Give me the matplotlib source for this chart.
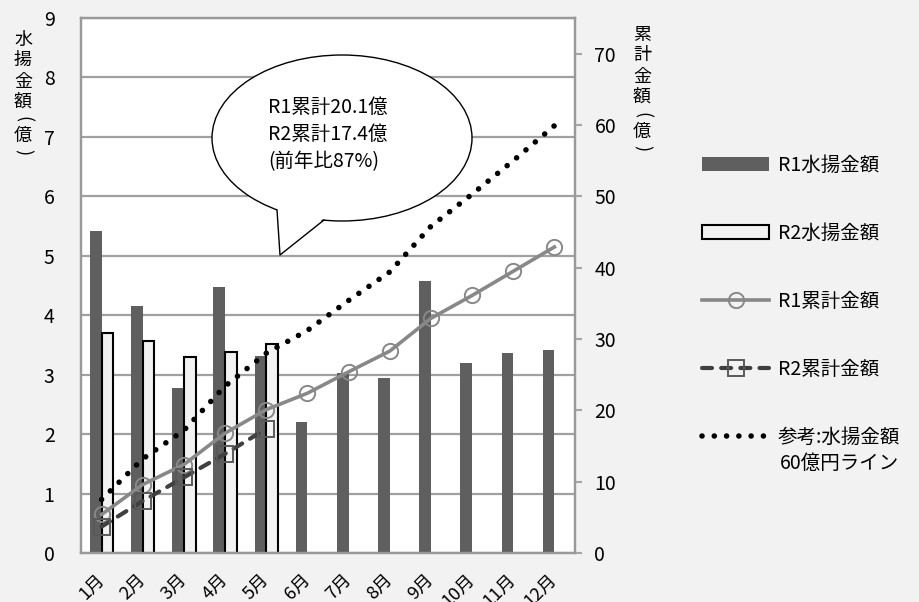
import matplotlib
matplotlib.use('Agg')
import matplotlib.pyplot as plt
from matplotlib.patches import Ellipse, Polygon
import numpy as np

plt.rcParams['font.family'] = ['Noto Sans CJK JP', 'DejaVu Sans']

# data
months = ['1月', '2月', '3月', '4月', '5月', '6月', '7月', '8月', '9月', '10月', '11月', '12月']
r1_monthly = [5.42, 4.16, 2.78, 4.47, 3.32, 2.21, 3.02, 2.95, 4.57, 3.20, 3.37, 3.42]
r2_monthly = [3.70, 3.56, 3.30, 3.38, 3.51]
r1_cumulative = [5.4, 9.6, 12.4, 16.8, 20.1, 22.4, 25.4, 28.3, 32.9, 36.1, 39.5, 42.9]
r2_cumulative = [3.7, 7.3, 10.6, 13.9, 17.4]
target_line = [7.5, 13.2, 17.2, 23.4, 28.0, 31.2, 35.4, 39.4, 45.8, 50.3, 55.0, 59.9]
left_ticks = list(range(0, 10))
right_ticks = list(range(0, 80, 10))

callout_lines = ['R1累計20.1億', 'R2累計17.4億', '(前年比87%)']

W, H = 919, 602
fig = plt.figure(figsize=(W / 100, H / 100), dpi=100, facecolor='#F2F2F2')

ax = fig.add_axes([81 / W, 1 - 553 / H, 494 / W, 535 / H])
ax.set_facecolor('white')
x = np.arange(len(months))
bw = 0.284
b1 = ax.bar(x - bw / 2, r1_monthly, width=bw, color='#5F5F5F', label='R1水揚金額', zorder=2)
b2 = ax.bar(x[:len(r2_monthly)] + bw / 2, r2_monthly, width=bw, facecolor='#F2F2F2',
            edgecolor='black', linewidth=1.5, label='R2水揚金額', zorder=2)
ax.set_xlim(-0.5, 11.5)
ax.set_ylim(0, 9)
ax.set_yticks(left_ticks)
ax.yaxis.grid(True, color='#A0A0A0', linewidth=1.6)
ax.set_axisbelow(True)
ax.tick_params(axis='y', length=0, pad=19, labelsize=14)
ax.set_xticks(x)
ax.set_xticklabels(months, rotation=45, ha='right', va='center', rotation_mode='anchor', fontsize=13)
ax.tick_params(axis='x', length=0, pad=17)
for s in ax.spines.values():
    s.set_color('#999999')
    s.set_linewidth(1.6)

ax2 = ax.twinx()
ax2.set_ylim(0, 75)
ax2.set_yticks(right_ticks)
ax2.tick_params(axis='y', length=5, width=1.5, color='#A6A6A6', pad=9, labelsize=14)
for s in ax2.spines.values():
    s.set_color('#999999')
    s.set_linewidth(1.6)

l1, = ax2.plot(x, r1_cumulative, color='#888888', lw=2.6, marker='o', markersize=11,
               markerfacecolor='none', markeredgecolor='#888888', markeredgewidth=1.4,
               label='R1累計金額', zorder=3)
l2, = ax2.plot(x[:len(r2_cumulative)], r2_cumulative, color='#404040', lw=3,
               linestyle=(0, (2.4, 2.2)), dash_capstyle='round', marker='s', markersize=11,
               markerfacecolor='none', markeredgecolor='#595959', markeredgewidth=1.4,
               label='R2累計金額', zorder=3)
l3, = ax2.plot(x, target_line, color='black', lw=4, linestyle=(0, (0.01, 2.2)),
               dash_capstyle='round', label='参考:水揚金額', zorder=4)

fig.legend(handles=[b1, b2, l1, l2, l3], loc='upper left',
           bbox_to_anchor=(702 / W, 1 - 155 / H), frameon=False, fontsize=14,
           handlelength=3.45, handletextpad=0.45, labelspacing=2.42,
           borderpad=0, borderaxespad=0, numpoints=1)

# overlay in pixel coordinates for annotations
ov = fig.add_axes([0, 0, 1, 1], zorder=10)
ov.set_xlim(0, W)
ov.set_ylim(H, 0)
ov.axis('off')

ov.text(780, 463, '60億円ライン', fontsize=14, va='center', ha='left')

# callout
ov.add_patch(Ellipse((342, 138), 260, 166, facecolor='white', edgecolor='black', lw=1))
ov.add_patch(Polygon([(277, 208), (280, 255), (324, 218), (324, 200), (277, 195)],
                     closed=True, facecolor='white', edgecolor='none'))
ov.plot([277, 280, 324], [210, 255, 220], color='black', lw=1)
for i, line in enumerate(callout_lines):
    ov.text(268, 107 + i * 27.5, line, fontsize=14, va='center', ha='left')

# stacked vertical axis titles (parentheses turned sideways)
def stacked(xc, ys, chars):
    for ch, yy in zip(chars, ys):
        rot = -90 if ch in '()' else 0
        ov.text(xc, yy, ch, fontsize=13, ha='center', va='center', rotation=rot,
                rotation_mode='anchor')

stacked(23, [40, 60, 82, 102, 119, 136, 152], ['水', '揚', '金', '額', '(', '億', ')'])
stacked(642, [35, 55, 77, 97, 115, 132, 148], ['累', '計', '金', '額', '(', '億', ')'])

fig.savefig('out.png', dpi=100, facecolor=fig.get_facecolor())
